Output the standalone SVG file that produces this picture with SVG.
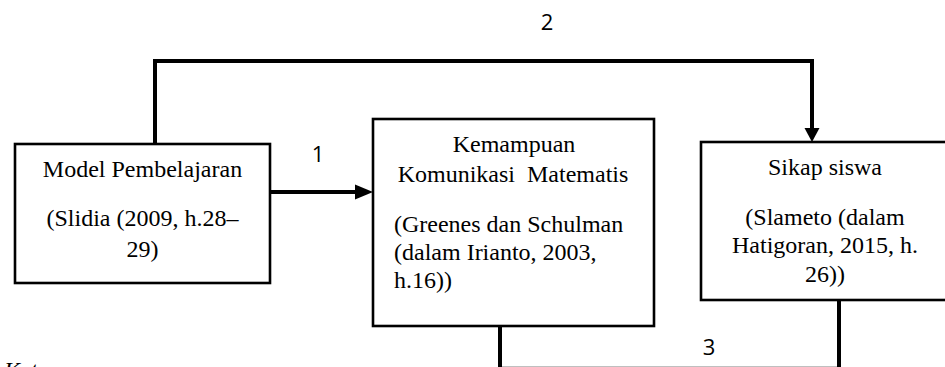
<svg xmlns="http://www.w3.org/2000/svg" width="945" height="367" viewBox="0 0 945 367">
<style>
.box{fill:#fff;stroke:#000;stroke-width:2.6}
.t{font-family:"Liberation Serif","Times New Roman",serif;font-size:24px;fill:#000}
.c{text-anchor:middle}
.num{font-family:"Open Sans","Liberation Sans",sans-serif;font-size:22px;fill:#000;text-anchor:middle}
.con{fill:none;stroke:#000;stroke-width:4}
</style>
<rect width="945" height="367" fill="#fff"/>
<g id="connectors">
<path class="con" d="M155 144 V61 H812 V128"/>
<path d="M804.5 128 L819.5 128 L812 142 Z" fill="#000"/>
<path class="con" d="M271 192 H357"/>
<path d="M355 184.5 L373 192 L355 199.5 Z" fill="#000"/>
<path class="con" d="M500 326 V368.8 H839 V300"/>
</g>
<g id="node-model">
<rect class="box" x="15" y="144" width="255" height="139"/>
<text class="t c" x="142.5" y="177">Model Pembelajaran</text>
<text class="t c" x="142.5" y="226">(Slidia (2009, h.28–</text>
<text class="t c" x="142.5" y="257">29)</text>
</g>
<g id="node-kemampuan">
<rect class="box" x="373" y="119" width="281" height="207"/>
<text class="t c" x="514" y="152">Kemampuan</text>
<text class="t c" x="513" y="182" xml:space="preserve">Komunikasi  Matematis</text>
<text class="t" x="394" y="232">(Greenes dan Schulman</text>
<text class="t" x="394" y="260">(dalam Irianto, 2003,</text>
<text class="t" x="394" y="288">h.16))</text>
</g>
<g id="node-sikap">
<rect class="box" x="701" y="142" width="250" height="158"/>
<text class="t c" x="825" y="175">Sikap siswa</text>
<text class="t c" x="825" y="225">(Slameto (dalam</text>
<text class="t c" x="825" y="253">Hatigoran, 2015, h.</text>
<text class="t c" x="825" y="282">26))</text>
</g>
<g id="labels">
<text class="num" x="318" y="162">1</text>
<text class="num" x="547" y="30">2</text>
<text class="num" x="709" y="355">3</text>
<text class="t" x="4" y="378" font-style="italic">Keterangan</text>
</g>
</svg>
